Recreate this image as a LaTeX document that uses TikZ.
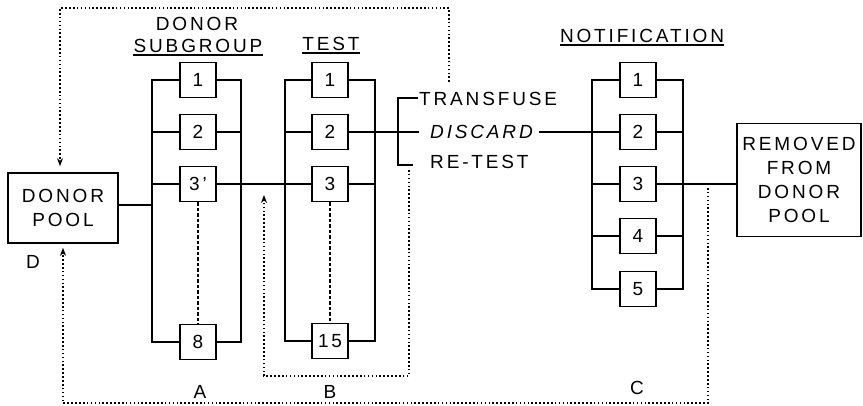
\documentclass[tikz,border=0pt]{standalone}
\usepackage{fontspec}
\setmainfont{Liberation Sans}[LetterSpace=15]
\usetikzlibrary{arrows.meta}
\begin{document}
\begin{tikzpicture}[x=1pt,y=-1pt,
  every node/.style={font=\fontsize{19}{24}\selectfont, inner sep=0pt},
  nbox/.style={draw, line width=1.6pt, minimum width=36pt, minimum height=35pt},
  bigbox/.style={draw, line width=1.6pt, align=center},
  wire/.style={line width=1.7pt},
  dots/.style={line width=1.9pt, dash pattern=on 1.6pt off 2.3pt},
  thindash/.style={line width=1.1pt, dash pattern=on 3.5pt off 2pt},
  arr/.style={-{Stealth[length=8pt,width=6pt]}},
  uline/.style={line width=1.5pt}]
\useasboundingbox (0,0) rectangle (863,406);

% donor pool
\node[bigbox, minimum width=110pt, minimum height=70pt] (pool) at (63,208) {DONOR\\POOL};
\node (D) at (33,262) {D};

% donor subgroup
\node (sg1) at (197,24) {DONOR};
\node (sg2) at (198,46) {SUBGROUP};
\draw[uline] ([yshift=-2pt]sg2.south west) -- ([yshift=-2pt]sg2.south east);
\node[nbox] (s1) at (198,80) {1};
\node[nbox] (s2) at (198,132) {2};
\node[nbox] (s3) at (198,184) {3'};
\node[nbox] (s8) at (198,342) {8};
\coordinate (sLb) at (152,342);
\coordinate (sRb) at (241,342);
\coordinate (pj) at (152,205);

% test
\node (tt) at (331,44) {TEST};
\draw[uline] ([yshift=-2pt]tt.south west) -- ([yshift=-2pt]tt.south east);
\node[nbox] (t1) at (330,80) {1};
\node[nbox] (t2) at (330,132) {2};
\node[nbox] (t3) at (330,184) {3};
\node[nbox] (t15) at (330,341) {15};
\coordinate (tLb) at (285,341);
\coordinate (tRb) at (375,341);

% outcomes
\node[anchor=west] (tf) at (419,99) {TRANSFUSE};
\node[anchor=west, font=\fontsize{19}{24}\selectfont\itshape] (dc) at (430,132) {DISCARD};
\node[anchor=west] (rt) at (430,162) {RE-TEST};
\coordinate (bT) at (398,98);
\coordinate (bB) at (398,165);
\coordinate (bTe) at (418,98);
\coordinate (bBe) at (413,165);
\coordinate (dL) at (419,132);

% notification
\node (nt) at (642,36) {NOTIFICATION};
\draw[uline] ([yshift=-2pt]nt.south west) -- ([yshift=-2pt]nt.south east);
\node[nbox] (n1) at (638,80) {1};
\node[nbox] (n2) at (638,132) {2};
\node[nbox] (n3) at (638,184) {3};
\node[nbox] (n4) at (638,236) {4};
\node[nbox] (n5) at (638,289) {5};
\coordinate (nLb) at (592,289);
\coordinate (nRb) at (683,289);

% removed
\node[bigbox, minimum width=124pt, minimum height=113pt] (rem) at (799,180) {REMOVED\\FROM\\DONOR\\POOL};

% wiring: subgroup
\draw[wire] ([yshift=3pt]pool.east) -- (pj);
\draw[wire] (s1.west) -| (sLb) -- (s8.west);
\draw[wire] (s1.east) -| (sRb) -- (s8.east);
\draw[wire] (s2.west) -- (s2.west -| sLb);
\draw[wire] (s2.east) -- (s2.east -| sRb);
\draw[wire] (s3.west) -- (s3.west -| sLb);
\draw[wire] (s3.east) -- (s3.east -| tLb);
\draw[thindash] (s3.south) -- (s8.north);

% wiring: test
\draw[wire] (t1.west) -| (tLb) -- (t15.west);
\draw[wire] (t1.east) -| (tRb) -- (t15.east);
\draw[wire] (t2.west) -- (t2.west -| tLb);
\draw[wire] (t3.west) -- (t3.west -| tLb);
\draw[wire] (t3.east) -- (t3.east -| tRb);
\draw[wire] (t2.east) -- (dL);
\draw[wire] (bTe) -- (bT) -- (bB) -- (bBe);
\draw[thindash] (t3.south) -- (t15.north);

% wiring: notification
\draw[wire] ([xshift=6pt]dc.east) -- (n2.west);
\draw[wire] (n1.west) -| (nLb) -- (n5.west);
\draw[wire] (n1.east) -| (nRb) -- (n5.east);
\draw[wire] (n2.east) -- (n2.east -| nRb);
\draw[wire] (n3.west) -- (n3.west -| nLb);
\draw[wire] (n4.west) -- (n4.west -| nLb);
\draw[wire] (n4.east) -- (n4.east -| nRb);
\draw[wire] (n3.east) -- (n3.east -| rem.west);

% dotted feedback paths
\coordinate (tfEnd) at (449,82);
\coordinate (topR) at (449,8);
\coordinate (topL) at (60,8);
\draw[dots, arr, shorten >=6pt] (tfEnd) -- (topR) -- (topL) -- (pool.north -| topL);

\coordinate (bR) at (409,170);
\coordinate (bBR) at (409,376);
\coordinate (bBL) at (264,376);
\draw[dots, arr, shorten >=11pt] (bR) -- (bBR) -- (bBL) -- (s3.east -| bBL);

\coordinate (cR) at (708,188);
\coordinate (cBR) at (708,403);
\coordinate (cBL) at (63,403);
\draw[dots, arr, shorten >=4pt] (cR) -- (cBR) -- (cBL) -- (pool.south -| cBL);

% labels
\node (A) at (200,392) {A};
\node (B) at (330,392) {B};
\node (C) at (637,388) {C};
\end{tikzpicture}
\end{document}
